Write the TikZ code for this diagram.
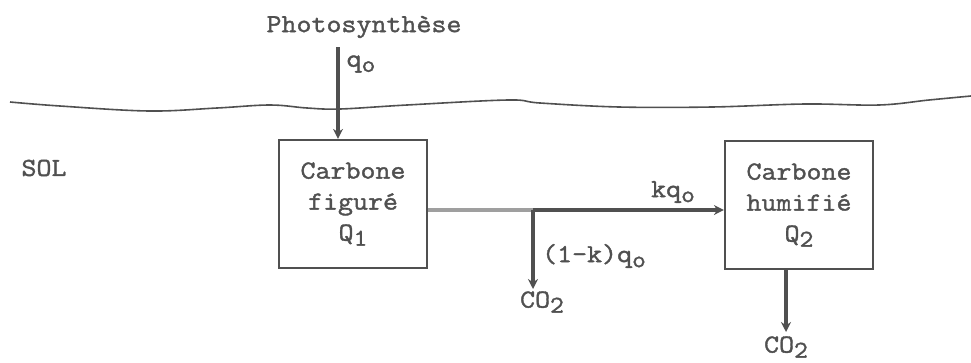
\documentclass[tikz,border=0pt]{standalone}
\usepackage{fontspec}
\setmonofont[FakeBold=1.5, FakeStretch=1.12]{Latin Modern Mono}
\usetikzlibrary{arrows.meta}
\definecolor{ink}{HTML}{505050}
\newcommand{\lowr}[1]{\raisebox{-0.45ex}{\fontsize{24}{24}\selectfont #1}}
\begin{document}
\begin{tikzpicture}[x=1pt,y=-1pt,
  txt/.style={font=\ttfamily\fontsize{26}{31}\selectfont, text=ink, inner sep=0pt},
  boxx/.style={txt, draw=ink, line width=2.2pt, minimum width=148pt, minimum height=128pt, align=center},
  arr/.style={draw=ink, line width=3.4pt, -{Stealth[length=10pt,width=10pt]}}]
\useasboundingbox (0,0) rectangle (971,362);
% ground line
\draw[ink, line width=1.6pt] plot[smooth, tension=0.6] coordinates {(10,102) (60,106) (149,111) (217,108) (270,105) (307,108) (340,109) (407,105) (508,100) (540,103) (619,107) (712,107) (805,104) (879,105) (929,100) (971,96)};
% nodes
\node[txt] (ph) at (364,27) {Photosynthèse};
\node[txt] (sol) at (44,168) {SOL};
\node[boxx] (b1) at (353,204) {Carbone\\figuré\\Q\lowr{1}};
\node[boxx] (b2) at (799,205) {Carbone\\humifié\\Q\lowr{2}};
\node[txt] (q0) at (361,64) {q\lowr{o}};
\node[txt] (kq) at (673,192) {kq\lowr{o}};
\node[txt] (lk) at (594,256) {(1-k)q\lowr{o}};
\node[txt] (c1) at (542,302) {CO\lowr{2}};
\node[txt] (c2) at (786,347) {CO\lowr{2}};
% connectors
\coordinate (ps) at (338,47);
\coordinate (j) at (533,210);
\draw[arr] (ps) -- (ps |- b1.north);
\draw[draw=ink!55, line width=3.4pt] (b1.east |- j) -- (j);
\draw[arr] (j) -- (j -| b2.west);
\draw[arr] (j) -- (533,289);
\draw[arr] (b2.south -| c2) -- (786,332);
\end{tikzpicture}
\end{document}
